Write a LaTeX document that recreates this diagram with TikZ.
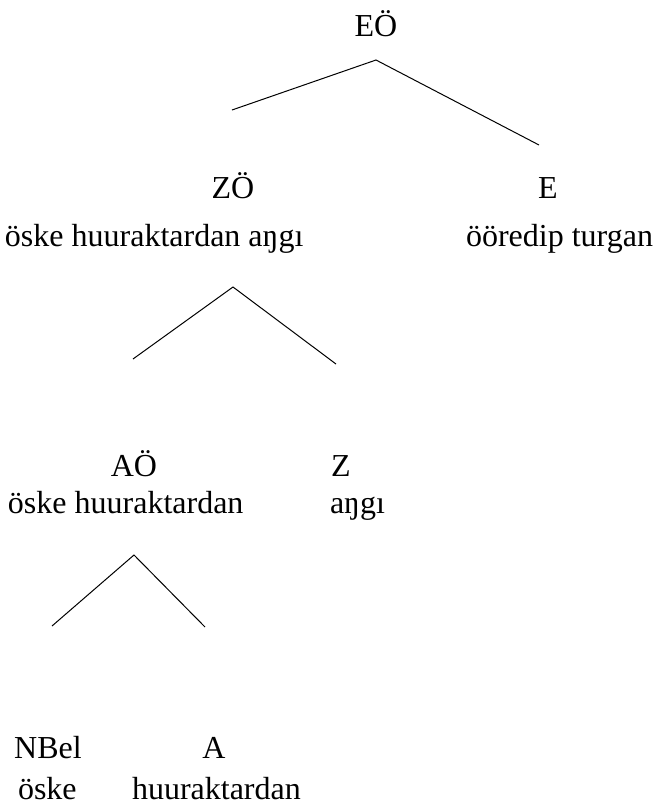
\documentclass[tikz,border=0pt]{standalone}
\usepackage{fontspec}
\setmainfont{Liberation Serif}
\begin{document}
\begin{tikzpicture}[x=1pt,y=-1pt,
  lbl/.style={inner sep=0pt,outer sep=0pt,anchor=base,font=\fontsize{32}{32}\selectfont},
  branch/.style={line width=1pt,black}]
\path[use as bounding box,fill=white] (0,0) rectangle (656,807);
% level 1
\node[lbl] (eo) at (376,36) {EÖ};
\coordinate (a1) at (376,60);
\coordinate (l1) at (232,110);
\coordinate (r1) at (539,145);
\draw[branch] (l1) -- (a1) -- (r1);
% level 2
\node[lbl] (zo) at (233,198) {ZÖ};
\node[lbl] (e) at (548,198) {E};
\node[lbl,anchor=base west] (t2l) at (5,246) {öske huuraktardan aŋgı};
\node[lbl,anchor=base east] (t2r) at (653,246) {ööredip turgan};
\coordinate (a2) at (233,287);
\coordinate (l2) at (133,359);
\coordinate (r2) at (336,364);
\draw[branch] (l2) -- (a2) -- (r2);
% level 3
\node[lbl] (ao) at (134,476) {AÖ};
\node[lbl] (z) at (341,476) {Z};
\node[lbl,anchor=base west] (t3l) at (8,513) {öske huuraktardan};
\node[lbl,anchor=base west] (t3r) at (330,513) {aŋgı};
\coordinate (a3) at (134,555);
\coordinate (l3) at (52,626);
\coordinate (r3) at (205,627);
\draw[branch] (l3) -- (a3) -- (r3);
% level 4
\node[lbl] (nbel) at (48,758) {NBel};
\node[lbl] (a) at (214,758) {A};
\node[lbl,anchor=base west] (t4l) at (18,799) {öske};
\node[lbl,anchor=base west] (t4r) at (132,799) {huuraktardan};
\end{tikzpicture}
\end{document}
